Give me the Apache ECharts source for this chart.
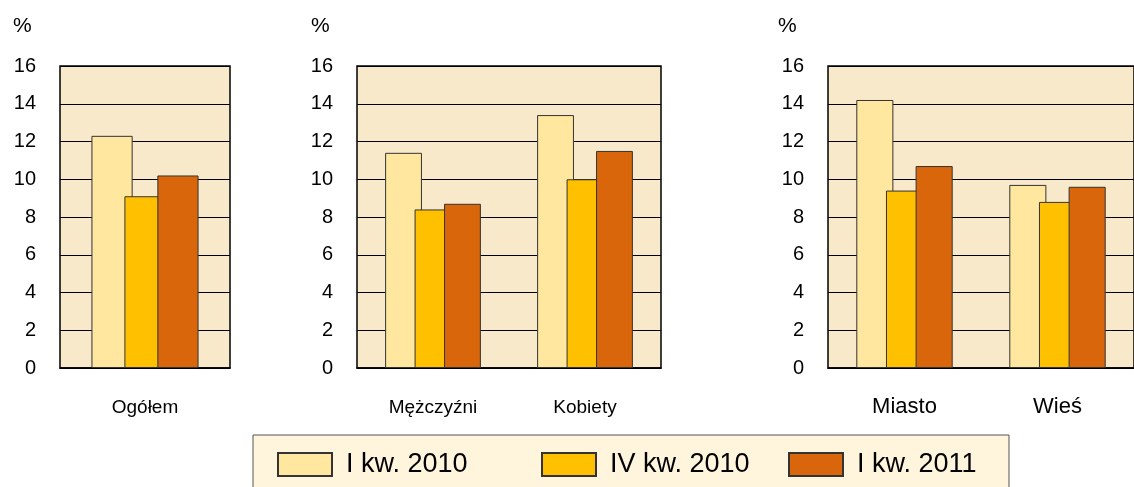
<!DOCTYPE html>
<html>
<head>
<meta charset="utf-8">
<script src="https://cdn.jsdelivr.net/npm/echarts@6/dist/echarts.min.js"></script>
<style>
  html, body { margin: 0; padding: 0; background: #fff; }
  #chart { width: 1134px; height: 487px; }
</style>
</head>
<body>
<div id="chart"></div>
<script>
// categories of the three panels
var catsTotal = ['Ogółem'];
var catsSex = ['Mężczyźni', 'Kobiety'];
var catsPlace = ['Miasto', 'Wieś'];

var seriesNames = ['I kw. 2010', 'IV kw. 2010', 'I kw. 2011'];
var colors = ['#FFE79F', '#FFC000', '#D9660B'];

// values per series (I kw. 2010, IV kw. 2010, I kw. 2011)
var totalVals = [[12.3], [9.1], [10.2]];
var sexVals = [[11.4, 13.4], [8.4, 10.0], [8.7, 11.5]];
var placeVals = [[14.2, 9.7], [9.4, 8.8], [10.7, 9.6]];

var yMin = 0, yMax = 16, yStep = 2;

var font = '"Liberation Sans", Arial, sans-serif';
var chart = echarts.init(document.getElementById('chart'));

var grids = [
  { left: 60, top: 66, width: 170, height: 302 },
  { left: 357, top: 66, width: 304, height: 302 },
  { left: 828, top: 66, width: 319, height: 302 }
];
var panelCats = [catsTotal, catsSex, catsPlace];
var panelVals = [totalVals, sexVals, placeVals];
var xFont = [19, 19, 22];

var option = {
  animation: false,
  textStyle: { fontFamily: font },
  title: [],
  grid: [],
  xAxis: [],
  yAxis: [],
  series: [],
  legend: [],
  graphic: [{
    type: 'rect',
    shape: { x: 253, y: 435, width: 756, height: 80 },
    style: { fill: '#FFF4DC', stroke: '#555', lineWidth: 1 },
    z: -1
  }]
};

var pctX = [13, 311, 778];
grids.forEach(function (g, i) {
  option.grid.push({
    left: g.left, top: g.top, width: g.width, height: g.height,
    show: true, backgroundColor: '#F8E9CA', borderColor: '#000', borderWidth: 1.5
  });
  option.title.push({
    text: '%', left: pctX[i], top: 16, padding: 0,
    textStyle: { fontSize: 21, fontWeight: 'normal', color: '#000', fontFamily: font }
  });
  option.xAxis.push({
    type: 'category', gridIndex: i, data: panelCats[i],
    axisTick: { show: false },
    axisLine: { lineStyle: { color: '#000', width: 1.5 } },
    axisLabel: { color: '#000', fontSize: xFont[i], margin: i === 2 ? 28 : 30, fontFamily: font }
  });
  option.yAxis.push({
    type: 'value', gridIndex: i, min: yMin, max: yMax, interval: yStep,
    axisLine: { show: false },
    axisTick: { show: false },
    splitLine: { lineStyle: { color: '#000', width: 1 } },
    axisLabel: { color: '#000', fontSize: 20, margin: 24, fontFamily: font }
  });
  seriesNames.forEach(function (name, s) {
    option.series.push({
      type: 'bar', name: name, xAxisIndex: i, yAxisIndex: i,
      data: panelVals[i][s],
      barGap: '-20%', barCategoryGap: '37%',
      itemStyle: { color: colors[s], borderColor: '#333', borderWidth: 1 }
    });
  });
});

var legendLeft = [277, 541, 788];
seriesNames.forEach(function (name, s) {
  option.legend.push({
    data: [name], left: legendLeft[s], top: 451, padding: 0,
    icon: 'rect', itemWidth: 54, itemHeight: 23, itemGap: 15,
    selectedMode: false,
    textStyle: { fontSize: 27, color: '#000', fontFamily: font, padding: [0, 0, 0, 9] }
  });
});

chart.setOption(option);
</script>
</body>
</html>
